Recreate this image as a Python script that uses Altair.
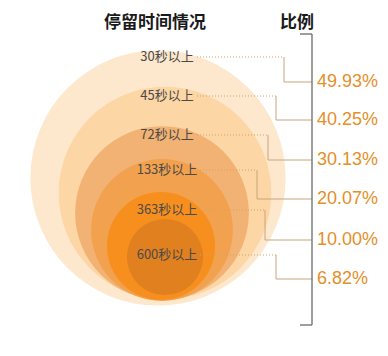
import math
import altair as alt
import pandas as pd

# ---- data ----
labels = ["30秒以上", "45秒以上", "72秒以上", "133秒以上", "363秒以上", "600秒以上"]
pct = [49.93, 40.25, 30.13, 20.07, 10.00, 6.82]
pct_text = [f"{p:.2f}%" for p in pct]
title_left = "停留时间情况"
title_right = "比例"

# ---- layout (image pixel coordinates) ----
cx = [158, 165, 162, 162, 161, 165]
cy = [178, 193, 213, 230, 246, 257]
rad = [144, 120, 98, 80, 61, 43]
colors = ["#fde8ce", "#fdd6a5", "#f2b273", "#f2a14e", "#f78f1e", "#e0801e"]
label_x = 167
label_y = [57, 96, 135, 170, 210, 255]
dot_start = [197, 197, 197, 200, 200, 200]
bend_x = [284, 276, 268, 257, 265, 276]
pct_y = [82, 120, 160, 199, 240, 279]
bracket_x = 312
bracket_top, bracket_bottom = 34, 325
pct_x = 317

W, H = 372, 340
xs = alt.Scale(domain=[8, 8 + W])
ys = alt.Scale(domain=[8, 8 + H], reverse=True)

circ = pd.DataFrame({
    "label": labels, "pct": pct, "cx": cx, "cy": cy,
    "area": [math.pi * r * r for r in rad], "order": list(range(len(labels))),
})
lead = pd.DataFrame({
    "label": labels, "ly": label_y, "x0": dot_start, "bx": bend_x,
    "py": pct_y, "ex": [bracket_x] * len(labels), "txt": pct_text,
    "lx": [label_x] * len(labels), "px": [pct_x] * len(labels),
})

circles = alt.Chart(circ).mark_circle(opacity=1, strokeWidth=0).encode(
    x=alt.X("cx:Q", scale=xs, axis=None),
    y=alt.Y("cy:Q", scale=ys, axis=None),
    size=alt.Size("area:Q", scale=None, legend=None),
    color=alt.Color("label:N", scale=alt.Scale(domain=labels, range=colors), legend=None),
    order=alt.Order("order:Q"),
)

base = alt.Chart(lead)
dotted = base.mark_rule(color="#d9a062", strokeWidth=1, strokeDash=[1, 2]).encode(
    x=alt.X("x0:Q", scale=xs, axis=None), x2="bx:Q",
    y=alt.Y("ly:Q", scale=ys, axis=None),
)
vert = base.mark_rule(color="#caa47c", strokeWidth=1).encode(
    x=alt.X("bx:Q", scale=xs, axis=None),
    y=alt.Y("ly:Q", scale=ys, axis=None), y2="py:Q",
)
horiz = base.mark_rule(color="#caa47c", strokeWidth=1).encode(
    x=alt.X("bx:Q", scale=xs, axis=None), x2="ex:Q",
    y=alt.Y("py:Q", scale=ys, axis=None),
)

lbl = base.mark_text(font="Noto Sans CJK SC", fontSize=13, color="#4a4a4a", align="center", baseline="middle").encode(
    x=alt.X("lx:Q", scale=xs, axis=None),
    y=alt.Y("ly:Q", scale=ys, axis=None),
    text="label:N",
)
ptxt = base.mark_text(font="Liberation Sans", fontSize=18, color="#e48f28", align="left", baseline="middle").encode(
    x=alt.X("px:Q", scale=xs, axis=None),
    y=alt.Y("py:Q", scale=ys, axis=None),
    text="txt:N",
)

brk = pd.DataFrame({
    "x": [bracket_x, 300, 300], "x2": [bracket_x, bracket_x, bracket_x],
    "y": [bracket_top, bracket_top, bracket_bottom], "y2": [bracket_bottom, bracket_top, bracket_bottom],
})
bracket = alt.Chart(brk).mark_rule(color="#6a6a6a", strokeWidth=1.3).encode(
    x=alt.X("x:Q", scale=xs, axis=None), x2="x2:Q",
    y=alt.Y("y:Q", scale=ys, axis=None), y2="y2:Q",
)

titles = pd.DataFrame({"t": [title_left, title_right], "x": [155, 297], "y": [23, 23]})
ttl = alt.Chart(titles).mark_text(font="Noto Sans CJK SC", fontSize=17, fontWeight="bold", color="#1a1a1a", align="center", baseline="middle").encode(
    x=alt.X("x:Q", scale=xs, axis=None),
    y=alt.Y("y:Q", scale=ys, axis=None),
    text="t:N",
)

chart = alt.layer(circles, dotted, vert, horiz, bracket, lbl, ptxt, ttl).properties(
    width=W, height=H, padding=0,
    autosize=alt.AutoSizeParams(type="none"),
).configure_view(stroke=None)

chart.save("out.html", embed_options={"renderer": "svg", "actions": False})
